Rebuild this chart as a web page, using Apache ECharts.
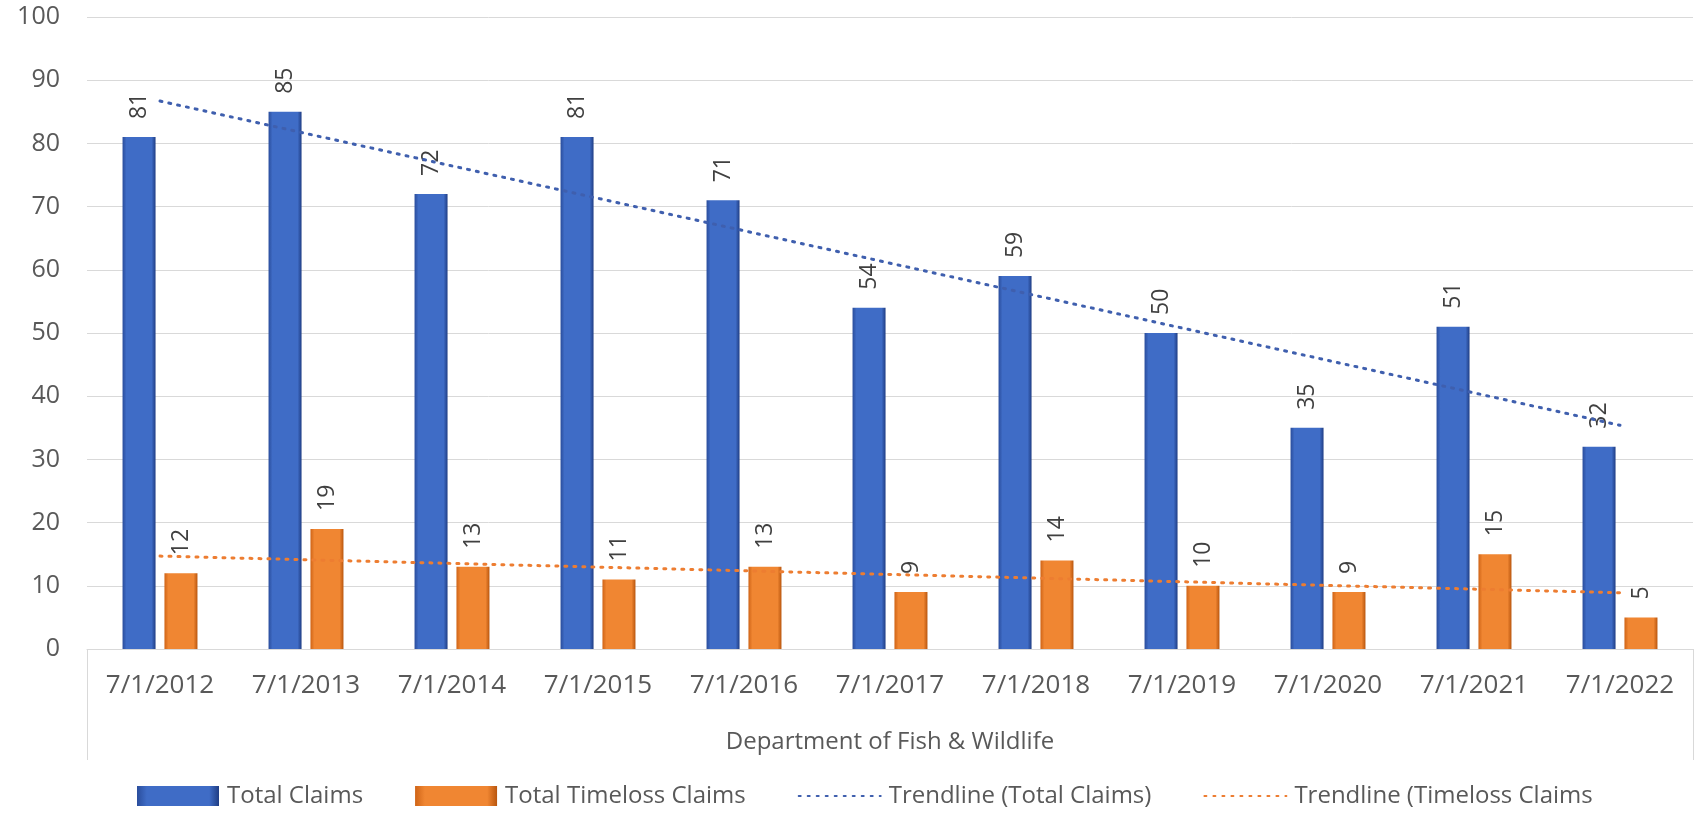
<!DOCTYPE html>
<html>
<head>
<meta charset="utf-8">
<title>Department of Fish & Wildlife claims</title>
<script src="https://cdn.jsdelivr.net/npm/echarts@6/dist/echarts.min.js"></script>
<style>
  html, body { margin: 0; padding: 0; background: #ffffff; }
  #chart { width: 1696px; height: 819px; }
</style>
</head>
<body>
<div id="chart"></div>
<script>
// values
const categories = ['7/1/2012', '7/1/2013', '7/1/2014', '7/1/2015', '7/1/2016', '7/1/2017',
                    '7/1/2018', '7/1/2019', '7/1/2020', '7/1/2021', '7/1/2022'];
const totalClaims = [81, 85, 72, 81, 71, 54, 59, 50, 35, 51, 32];
const timelossClaims = [12, 19, 13, 11, 13, 9, 14, 10, 9, 15, 5];
// trendline end points (first and last category)
const trendTotal = [86.7, 35.4];
const trendTimeloss = [14.7, 8.9];
const groupLabel = ['Department of Fish & Wildlife'];
const yTicks = { min: 0, max: 100, interval: 10 };

const font = 'Open Sans';
const myChart = echarts.init(document.getElementById('chart'));

function bevel(edgeL, mid, edgeR) {
    return new echarts.graphic.LinearGradient(0, 0, 1, 0, [
        { offset: 0, color: edgeL },
        { offset: 0.12, color: mid },
        { offset: 0.5, color: mid },
        { offset: 0.88, color: mid },
        { offset: 1, color: edgeR }
    ]);
}

const barLabel = {
    show: true,
    position: 'top',
    rotate: 90,
    align: 'left',
    verticalAlign: 'middle',
    distance: 18,
    fontFamily: font,
    fontSize: 23,
    color: '#404040'
};

function trendData(ends) {
    return [[categories[0], ends[0]], [categories[categories.length - 1], ends[1]]];
}

const option = {
    animation: false,
    backgroundColor: '#ffffff',
    textStyle: { fontFamily: font },
    grid: { left: 87, right: 3, top: 17, bottom: 170 },
    legend: {
        left: 132,
        bottom: 6,
        itemWidth: 82,
        itemHeight: 20,
        itemGap: 52,
        textStyle: { fontFamily: font, fontSize: 24, color: '#595959', padding: [0, 0, 0, 3] },
        data: [
            { name: 'Total Claims', icon: 'rect' },
            { name: 'Total Timeloss Claims', icon: 'rect' },
            { name: 'Trendline (Total Claims)', itemStyle: { opacity: 0 } },
            { name: 'Trendline (Timeloss Claims', itemStyle: { opacity: 0 } }
        ]
    },
    xAxis: [
        {
            type: 'category',
            data: categories,
            axisLine: { lineStyle: { color: '#d9d9d9', width: 1 } },
            axisTick: { show: false },
            axisLabel: { fontFamily: font, fontSize: 26, color: '#595959', margin: 24, interval: 0 }
        },
        {
            type: 'category',
            data: groupLabel,
            position: 'bottom',
            axisLine: { show: false },
            axisTick: { show: true, length: 111, lineStyle: { color: '#d9d9d9' } },
            axisLabel: { fontFamily: font, fontSize: 24, color: '#595959', margin: 81 },
            splitLine: { show: false }
        }
    ],
    yAxis: {
        type: 'value',
        min: yTicks.min,
        max: yTicks.max,
        interval: yTicks.interval,
        axisLine: { show: false },
        axisTick: { show: false },
        axisLabel: { fontFamily: font, fontSize: 25, color: '#595959', margin: 27 },
        splitLine: { lineStyle: { color: '#d9d9d9', width: 1 } }
    },
    series: [
        {
            name: 'Total Claims',
            type: 'bar',
            xAxisIndex: 0,
            data: totalClaims,
            barWidth: 33,
            barGap: '27%',
            itemStyle: { color: bevel('#2a4d9c', '#3f6cc6', '#1f3d84') },
            label: barLabel
        },
        {
            name: 'Total Timeloss Claims',
            type: 'bar',
            xAxisIndex: 0,
            data: timelossClaims,
            barWidth: 33,
            itemStyle: { color: bevel('#cf6417', '#f08632', '#b9560e') },
            label: barLabel
        },
        {
            name: 'Trendline (Total Claims)',
            type: 'line',
            xAxisIndex: 0,
            data: trendData(trendTotal),
            symbol: 'none',
            z: 5,
            itemStyle: { color: '#3f5fae' },
            lineStyle: { color: '#3f5fae', width: 3, type: [2, 7], cap: 'round' }
        },
        {
            name: 'Trendline (Timeloss Claims',
            type: 'line',
            xAxisIndex: 0,
            data: trendData(trendTimeloss),
            symbol: 'none',
            z: 5,
            itemStyle: { color: '#ed7d31' },
            lineStyle: { color: '#ed7d31', width: 3, type: [2, 7], cap: 'round' }
        }
    ]
};

myChart.setOption(option);
</script>
</body>
</html>
